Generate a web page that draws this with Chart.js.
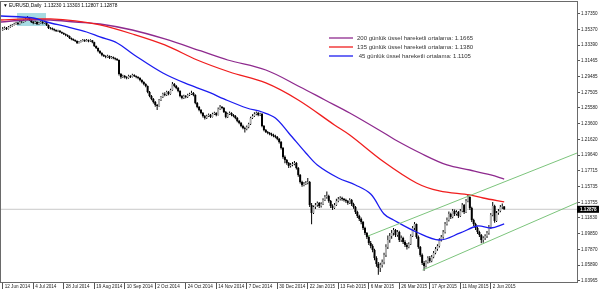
<!DOCTYPE html>
<html>
<head>
<meta charset="utf-8">
<script src="https://cdn.jsdelivr.net/npm/chart.js@4"></script>
<style>
	html, body { margin: 0; padding: 0; background: #fff; }
	canvas { display: block; }
</style>
</head>
<body>
<canvas id="chart01" width="600" height="292"></canvas>
<script>
// EURUSD daily bars, 12 Jun 2014 - 10 Jun 2015
const firstOpen = 1.3530;
const closes = [
	1.3542, 1.3554, 1.3542, 1.3567, 1.3579, 1.3592, 1.3604, 1.3617, 1.3604, 1.3629,
	1.3629, 1.3642, 1.3667, 1.3679, 1.3654, 1.3629, 1.3617, 1.3629, 1.3604, 1.3617,
	1.3629, 1.3617, 1.3629, 1.3592, 1.3554, 1.3551, 1.3540, 1.3529, 1.3517, 1.3520,
	1.3504, 1.3492, 1.3479, 1.3467, 1.3454, 1.3429, 1.3417, 1.3404, 1.3392, 1.3367,
	1.3379, 1.3392, 1.3404, 1.3390, 1.3402, 1.3388, 1.3400, 1.3377, 1.3329, 1.3304,
	1.3267, 1.3242, 1.3217, 1.3204, 1.3192, 1.3205, 1.3179, 1.3190, 1.3178, 1.3167,
	1.3154, 1.2979, 1.2942, 1.2954, 1.2940, 1.2929, 1.2955, 1.2943, 1.2967, 1.2953,
	1.2941, 1.2929, 1.2904, 1.2879, 1.2854, 1.2829, 1.2754, 1.2704, 1.2667, 1.2629,
	1.2592, 1.2579, 1.2654, 1.2692, 1.2729, 1.2717, 1.2754, 1.2729, 1.2779, 1.2854,
	1.2829, 1.2804, 1.2767, 1.2704, 1.2679, 1.2704, 1.2692, 1.2717, 1.2729, 1.2742,
	1.2717, 1.2617, 1.2567, 1.2529, 1.2492, 1.2454, 1.2429, 1.2454, 1.2467, 1.2442,
	1.2479, 1.2492, 1.2467, 1.2542, 1.2567, 1.2554, 1.2504, 1.2442, 1.2479, 1.2492,
	1.2467, 1.2454, 1.2429, 1.2392, 1.2367, 1.2329, 1.2304, 1.2292, 1.2317, 1.2354,
	1.2429, 1.2454, 1.2479, 1.2492, 1.2467, 1.2479, 1.2329, 1.2279, 1.2254, 1.2242,
	1.2229, 1.2217, 1.2204, 1.2192, 1.2167, 1.2129, 1.2054, 1.1942, 1.1904, 1.1867,
	1.1829, 1.1842, 1.1854, 1.1867, 1.1804, 1.1717, 1.1629, 1.1592, 1.1604, 1.1617,
	1.1629, 1.1342, 1.1242, 1.1317, 1.1342, 1.1367, 1.1329, 1.1354, 1.1404, 1.1442,
	1.1454, 1.1392, 1.1329, 1.1304, 1.1342, 1.1392, 1.1417, 1.1429, 1.1417, 1.1404,
	1.1392, 1.1367, 1.1404, 1.1354, 1.1317, 1.1254, 1.1204, 1.1167, 1.1129, 1.1054,
	1.0992, 1.0942, 1.0867, 1.0829, 1.0779, 1.0679, 1.0604, 1.0554, 1.0592, 1.0629,
	1.0717, 1.0817, 1.0904, 1.0954, 1.0992, 1.1029, 1.0967, 1.1004, 1.0904, 1.0929,
	1.0879, 1.0842, 1.0817, 1.0854, 1.0954, 1.1054, 1.1104, 1.0942, 1.0817, 1.0717,
	1.0617, 1.0579, 1.0629, 1.0679, 1.0642, 1.0692, 1.0742, 1.0792, 1.0829, 1.0904,
	1.0942, 1.1004, 1.1104, 1.1154, 1.1229, 1.1192, 1.1267, 1.1229, 1.1254, 1.1204,
	1.1267, 1.1342, 1.1254, 1.1392, 1.1442, 1.1304, 1.1154, 1.1104, 1.1054, 1.1004,
	1.0967, 1.0904, 1.0929, 1.0954, 1.0992, 1.1067, 1.1217, 1.1329, 1.1142, 1.1242,
	1.1267, 1.1317, 1.1323, 1.12878,
];
const highs = [
	1.3565, 1.3572, 1.3568, 1.3580, 1.3596, 1.3605, 1.3621, 1.3633, 1.3630, 1.3644,
	1.3648, 1.3661, 1.3685, 1.3700, 1.3688, 1.3662, 1.3640, 1.3645, 1.3637, 1.3631,
	1.3643, 1.3640, 1.3645, 1.3634, 1.3598, 1.3568, 1.3560, 1.3549, 1.3535, 1.3533,
	1.3527, 1.3510, 1.3498, 1.3485, 1.3472, 1.3460, 1.3436, 1.3423, 1.3410, 1.3398,
	1.3393, 1.3405, 1.3418, 1.3412, 1.3416, 1.3410, 1.3413, 1.3405, 1.3382, 1.3335,
	1.3310, 1.3275, 1.3250, 1.3225, 1.3212, 1.3220, 1.3210, 1.3204, 1.3197, 1.3185,
	1.3175, 1.3160, 1.2990, 1.2970, 1.2968, 1.2950, 1.2970, 1.2962, 1.2982, 1.2975,
	1.2960, 1.2950, 1.2938, 1.2912, 1.2888, 1.2862, 1.2835, 1.2765, 1.2715, 1.2678,
	1.2640, 1.2605, 1.2668, 1.2705, 1.2745, 1.2750, 1.2770, 1.2765, 1.2795, 1.2880,
	1.2868, 1.2840, 1.2815, 1.2775, 1.2715, 1.2720, 1.2718, 1.2732, 1.2745, 1.2770,
	1.2755, 1.2725, 1.2630, 1.2580, 1.2540, 1.2505, 1.2468, 1.2470, 1.2485, 1.2478,
	1.2495, 1.2508, 1.2502, 1.2560, 1.2590, 1.2580, 1.2565, 1.2515, 1.2495, 1.2510,
	1.2500, 1.2480, 1.2465, 1.2440, 1.2405, 1.2380, 1.2345, 1.2320, 1.2335, 1.2370,
	1.2445, 1.2475, 1.2500, 1.2510, 1.2505, 1.2495, 1.2490, 1.2340, 1.2292, 1.2268,
	1.2255, 1.2244, 1.2232, 1.2220, 1.2205, 1.2180, 1.2140, 1.2065, 1.1960, 1.1918,
	1.1880, 1.1868, 1.1880, 1.1890, 1.1880, 1.1815, 1.1730, 1.1645, 1.1630, 1.1640,
	1.1680, 1.1640, 1.1365, 1.1335, 1.1365, 1.1385, 1.1380, 1.1375, 1.1425, 1.1468,
	1.1510, 1.1470, 1.1405, 1.1350, 1.1365, 1.1420, 1.1440, 1.1450, 1.1445, 1.1430,
	1.1420, 1.1405, 1.1425, 1.1415, 1.1370, 1.1330, 1.1270, 1.1220, 1.1185, 1.1140,
	1.1070, 1.1005, 1.0960, 1.0890, 1.0850, 1.0795, 1.0700, 1.0630, 1.0620, 1.0660,
	1.0745, 1.0850, 1.0960, 1.0990, 1.1030, 1.1055, 1.1040, 1.1030, 1.1020, 1.0960,
	1.0945, 1.0900, 1.0865, 1.0875, 1.0975, 1.1080, 1.1130, 1.1110, 1.0960, 1.0830,
	1.0735, 1.0640, 1.0650, 1.0700, 1.0705, 1.0715, 1.0765, 1.0815, 1.0850, 1.0925,
	1.0965, 1.1030, 1.1130, 1.1185, 1.1260, 1.1245, 1.1290, 1.1285, 1.1275, 1.1265,
	1.1290, 1.1365, 1.1355, 1.1415, 1.1467, 1.1450, 1.1320, 1.1170, 1.1120, 1.1070,
	1.1020, 1.0980, 1.0950, 1.0975, 1.1015, 1.1090, 1.1240, 1.1380, 1.1345, 1.1265,
	1.1290, 1.1340, 1.1360, 1.13303,
];
const lows = [
	1.3520, 1.3531, 1.3528, 1.3535, 1.3558, 1.3570, 1.3585, 1.3596, 1.3592, 1.3598,
	1.3612, 1.3620, 1.3636, 1.3655, 1.3640, 1.3615, 1.3601, 1.3605, 1.3590, 1.3595,
	1.3606, 1.3602, 1.3608, 1.3578, 1.3540, 1.3536, 1.3526, 1.3514, 1.3503, 1.3505,
	1.3490, 1.3478, 1.3465, 1.3452, 1.3440, 1.3415, 1.3402, 1.3390, 1.3378, 1.3353,
	1.3360, 1.3372, 1.3385, 1.3378, 1.3384, 1.3375, 1.3380, 1.3362, 1.3315, 1.3290,
	1.3250, 1.3228, 1.3200, 1.3190, 1.3177, 1.3183, 1.3165, 1.3170, 1.3162, 1.3150,
	1.3140, 1.2960, 1.2920, 1.2930, 1.2922, 1.2912, 1.2920, 1.2928, 1.2935, 1.2940,
	1.2925, 1.2912, 1.2888, 1.2862, 1.2838, 1.2812, 1.2738, 1.2688, 1.2650, 1.2610,
	1.2571, 1.2528, 1.2570, 1.2640, 1.2680, 1.2702, 1.2705, 1.2712, 1.2720, 1.2770,
	1.2812, 1.2788, 1.2750, 1.2688, 1.2662, 1.2668, 1.2675, 1.2680, 1.2705, 1.2715,
	1.2700, 1.2600, 1.2550, 1.2512, 1.2475, 1.2436, 1.2410, 1.2418, 1.2440, 1.2428,
	1.2435, 1.2465, 1.2450, 1.2460, 1.2530, 1.2538, 1.2490, 1.2425, 1.2430, 1.2468,
	1.2450, 1.2438, 1.2412, 1.2375, 1.2350, 1.2312, 1.2288, 1.2247, 1.2275, 1.2300,
	1.2340, 1.2415, 1.2440, 1.2462, 1.2450, 1.2455, 1.2312, 1.2262, 1.2240, 1.2226,
	1.2212, 1.2200, 1.2188, 1.2175, 1.2150, 1.2110, 1.2035, 1.1920, 1.1862, 1.1845,
	1.1805, 1.1810, 1.1825, 1.1838, 1.1785, 1.1695, 1.1610, 1.1570, 1.1575, 1.1590,
	1.1600, 1.1315, 1.1100, 1.1230, 1.1290, 1.1320, 1.1305, 1.1310, 1.1340, 1.1390,
	1.1420, 1.1370, 1.1305, 1.1280, 1.1290, 1.1330, 1.1375, 1.1398, 1.1395, 1.1385,
	1.1370, 1.1345, 1.1355, 1.1330, 1.1295, 1.1230, 1.1180, 1.1140, 1.1100, 1.1030,
	1.0965, 1.0915, 1.0840, 1.0800, 1.0750, 1.0650, 1.0570, 1.0470, 1.0505, 1.0560,
	1.0600, 1.0690, 1.0790, 1.0870, 1.0920, 1.0960, 1.0940, 1.0945, 1.0880, 1.0880,
	1.0855, 1.0815, 1.0785, 1.0800, 1.0840, 1.0940, 1.1030, 1.0920, 1.0795, 1.0695,
	1.0590, 1.0520, 1.0560, 1.0610, 1.0620, 1.0625, 1.0675, 1.0725, 1.0770, 1.0810,
	1.0885, 1.0920, 1.0985, 1.1085, 1.1135, 1.1165, 1.1175, 1.1205, 1.1210, 1.1180,
	1.1190, 1.1250, 1.1230, 1.1240, 1.1375, 1.1280, 1.1130, 1.1080, 1.1030, 1.0980,
	1.0940, 1.0862, 1.0870, 1.0905, 1.0930, 1.0970, 1.1045, 1.1200, 1.1120, 1.1130,
	1.1220, 1.1250, 1.1290, 1.12807,
];

// exponential moving averages, sampled along the curves (bar index, price)
const ema200Bars = [-1, 12, 25, 38, 51, 68, 85, 104, 118, 138, 156, 169, 182, 200, 206, 219, 233, 245, 256, 263];
const ema200 = [1.3629, 1.3654, 1.3654, 1.3629, 1.3604, 1.3529, 1.3417, 1.3267, 1.3154, 1.3029, 1.2817, 1.2654, 1.2492, 1.2242, 1.2154, 1.1991, 1.1842, 1.1779, 1.1717, 1.1665];
const ema135Bars = [-1, 12, 25, 38, 51, 68, 85, 102, 119, 138, 155, 174, 182, 200, 217, 229, 245, 252, 263];
const ema135 = [1.3654, 1.3667, 1.3667, 1.3642, 1.3592, 1.3479, 1.3342, 1.3154, 1.3004, 1.2867, 1.2654, 1.2342, 1.2217, 1.1879, 1.1617, 1.1517, 1.1467, 1.1429, 1.1380];
const ema45Bars = [-1, 16, 23, 34, 44, 51, 60, 69, 84, 98, 109, 116, 128, 136, 143, 150, 159, 165, 176, 185, 193, 200, 205, 217, 229, 240, 249, 256, 263];
const ema45 = [1.3704, 1.3679, 1.3629, 1.3567, 1.3504, 1.3442, 1.3367, 1.3217, 1.2992, 1.2842, 1.2742, 1.2667, 1.2554, 1.2504, 1.2429, 1.2242, 1.1992, 1.1842, 1.1679, 1.1592, 1.1479, 1.1229, 1.1154, 1.1004, 1.0904, 1.0992, 1.1079, 1.1054, 1.1105];

// trend channel drawn on the chart
const upperBars = [191.6, 301.2];
const upperPrices = [1.0954, 1.1991];
const lowerBars = [220.2, 301.2];
const lowerPrices = [1.0529, 1.1370];

// highlighted box in the top-left corner
const boxBars = [7.5, 22.7];
const boxPrices = [1.3741, 1.3579];

const dateLabels = [
	"12 Jun 2014", "4 Jul 2014", "28 Jul 2014", "19 Aug 2014", "10 Sep 2014", "2 Oct 2014",
	"24 Oct 2014", "14 Nov 2014", "7 Dec 2014", "30 Dec 2014", "22 Jan 2015", "13 Feb 2015",
	"6 Mar 2015", "26 Mar 2015", "17 Apr 2015", "11 May 2015", "2 Jun 2015",
];
const dateBars = [0, 16, 32, 48, 64, 80, 96, 112, 128, 144, 160, 176, 192, 208, 224, 240, 256];
const priceTicks = [
	1.37350, 1.35370, 1.33390, 1.31465, 1.29485, 1.27505, 1.25580, 1.23600, 1.21620,
	1.19640, 1.17715, 1.15735, 1.13755, 1.11830, 1.09850, 1.07870, 1.05890, 1.03965,
];

const xMin = -0.9;
const xMax = 301.2;
const yMin = 1.0379;
const yMax = 1.3879;

const symbol = "EURUSD,Daily";
const emaPeriods = [200, 135, 45];
const emaColors = ["#8e2a8e", "#f01e1e", "#1c1cf0"];

const opens = closes.map((c, i) => (i === 0 ? firstOpen : closes[i - 1]));
const last = closes.length - 1;
const axisFont = { family: "'Liberation Sans', Arial, sans-serif", size: 4.6 };

const wickData = closes.map((c, i) => ({ x: i, y: [lows[i], highs[i]] }));
const bodyData = closes.map((c, i) => ({ x: i, y: [opens[i], c] }));
const bodyColors = closes.map((c, i) => (c > opens[i] ? "#b0b0b0" : "#000000"));

const toPoints = (bars, values) => bars.map((b, i) => ({ x: b, y: values[i] }));

const lineSet = (data, color, width, tension, order) => ({
	type: "line",
	data,
	borderColor: color,
	borderWidth: width,
	pointRadius: 0,
	tension,
	order,
});

const overlay = {
	id: "overlay",
	beforeDatasetsDraw(chart) {
		const { ctx, scales: { x, y } } = chart;
		const x0 = x.getPixelForValue(boxBars[0]);
		const x1 = x.getPixelForValue(boxBars[1]);
		const y0 = y.getPixelForValue(boxPrices[0]);
		const y1 = y.getPixelForValue(boxPrices[1]);
		ctx.save();
		ctx.fillStyle = "#a6dbe3";
		ctx.fillRect(x0, y0, x1 - x0, y1 - y0);
		ctx.restore();
	},
	afterDraw(chart) {
		const { ctx, chartArea: a, scales: { y } } = chart;
		ctx.save();

		// frame
		ctx.strokeStyle = "#6a6a6a";
		ctx.lineWidth = 1;
		ctx.strokeRect(a.left - 0.5, a.top - 0.5, a.right - a.left + 1, a.bottom - a.top + 1);

		// title
		ctx.fillStyle = "#000";
		ctx.textBaseline = "middle";
		ctx.font = "4.8px 'Liberation Sans', Arial, sans-serif";
		const ohlc = [opens[last], highs[last], lows[last], closes[last]].map((v) => v.toFixed(5)).join(" ");
		ctx.fillText("\u25BC " + symbol + "  " + ohlc, 3, 6);

		// legend
		const series = [ema200, ema135, ema45];
		ctx.font = "6px 'Liberation Sans', Arial, sans-serif";
		emaPeriods.forEach((p, k) => {
			const ly = 38 + k * 9;
			ctx.strokeStyle = emaColors[k];
			ctx.lineWidth = 1.3;
			ctx.beginPath();
			ctx.moveTo(329, ly);
			ctx.lineTo(353, ly);
			ctx.stroke();
			const value = series[k][series[k].length - 1].toFixed(4);
			ctx.fillStyle = "#333";
			ctx.fillText(String(p).padStart(3, " ") + " günlük üssel hareketli ortalama: " + value, 357, ly);
		});

		// current price tag
		const py = y.getPixelForValue(closes[last]);
		ctx.fillStyle = "#000";
		ctx.fillRect(a.right, py - 3.5, 22, 7);
		ctx.fillStyle = "#fff";
		ctx.font = "bold 4.6px 'Liberation Sans', Arial, sans-serif";
		ctx.fillText(closes[last].toFixed(5), a.right + 3, py);

		ctx.restore();
	},
};

const config = {
	type: "bar",
	data: {
		datasets: [
			lineSet(toPoints(upperBars, upperPrices), "#7cc47c", 1, 0, 1),
			lineSet(toPoints(lowerBars, lowerPrices), "#7cc47c", 1, 0, 1),
			lineSet(toPoints(ema45Bars, ema45), emaColors[2], 1.3, 0.35, 2),
			lineSet(toPoints(ema135Bars, ema135), emaColors[1], 1.3, 0.35, 2),
			lineSet(toPoints(ema200Bars, ema200), emaColors[0], 1.3, 0.35, 2),
			{
				data: bodyData,
				backgroundColor: bodyColors,
				barThickness: 2,
				grouped: false,
				inflateAmount: 0,
				borderWidth: 0,
				order: 5,
			},
			{
				data: wickData,
				backgroundColor: "#000",
				barThickness: 1,
				grouped: false,
				inflateAmount: 0,
				borderWidth: 0,
				order: 6,
			},
			lineSet([{ x: xMin, y: closes[last] }, { x: xMax, y: closes[last] }], "#c8c8c8", 1, 0, 8),
		],
	},
	options: {
		responsive: false,
		animation: false,
		layout: { padding: { left: 1, top: 2, right: 0, bottom: 0 } },
		plugins: {
			legend: { display: false },
			tooltip: { enabled: false },
		},
		scales: {
			x: {
				type: "linear",
				min: xMin,
				max: xMax,
				offset: false,
				border: { display: false },
				grid: { offset: false, drawOnChartArea: false, drawTicks: true, tickLength: 7, color: "#555" },
				ticks: {
					autoSkip: false,
					maxRotation: 0,
					align: "start",
					labelOffset: 2,
					padding: -5,
					color: "#222",
					font: axisFont,
					callback: (value, index) => dateLabels[index],
				},
				afterBuildTicks: (scale) => {
					scale.ticks = dateBars.map((v) => ({ value: v }));
				},
				afterFit: (scale) => {
					scale.height = 10;
					scale.paddingLeft = 0;
					scale.paddingRight = 0;
				},
			},
			y: {
				type: "linear",
				position: "right",
				min: yMin,
				max: yMax,
				beginAtZero: false,
				border: { display: false },
				grid: { drawOnChartArea: false, drawTicks: true, tickLength: 3, color: "#555" },
				ticks: {
					padding: 1,
					color: "#222",
					font: axisFont,
					callback: (value) => value.toFixed(5),
				},
				afterBuildTicks: (scale) => {
					scale.ticks = priceTicks.map((v) => ({ value: v }));
				},
				afterFit: (scale) => {
					scale.width = 23;
					scale.paddingTop = 0;
					scale.paddingBottom = 0;
				},
			},
		},
	},
	plugins: [overlay],
};

new Chart(document.querySelector("#chart01"), config);
</script>
</body>
</html>
